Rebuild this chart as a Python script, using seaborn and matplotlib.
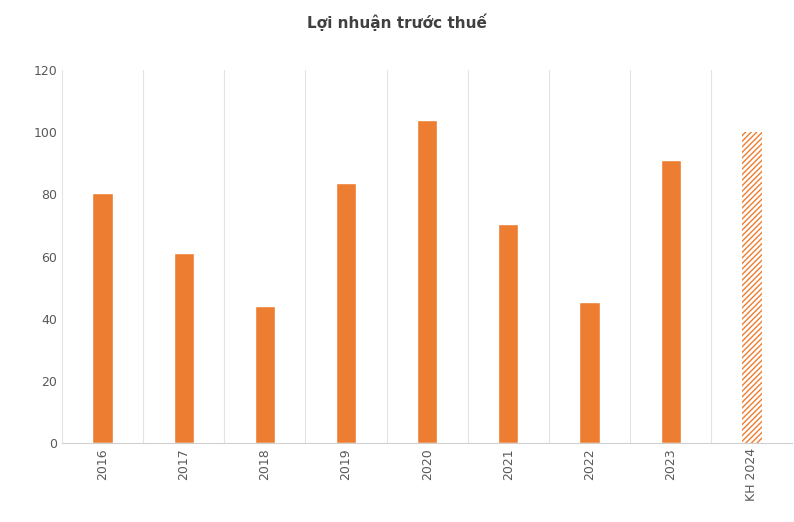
import matplotlib.pyplot as plt
import seaborn as sns
import pandas as pd

years = ['2016', '2017', '2018', '2019', '2020', '2021', '2022', '2023', 'KH 2024']
profit = [80.5, 61, 44, 83.5, 104, 70.5, 45.5, 91, 100]

sns.set_style("white")
df = pd.DataFrame({'year': years, 'profit': profit})

fig = plt.figure(figsize=(7.94, 5.22), dpi=100)
ax = fig.add_axes([0.078, 0.151, 0.92, 0.715])
orange = '#ED7D31'
sns.barplot(data=df, x='year', y='profit', color=orange, width=0.25, saturation=1, ax=ax)

# last bar is the plan: hatched
last = ax.patches[-1]
last.set_facecolor('white')
last.set_edgecolor(orange)
last.set_hatch('//////')
last.set_linewidth(0)

ax.set_ylim(0, 120)
ax.set_yticks(range(0, 121, 20))
ax.set_xlim(-0.5, len(years) - 0.5)
for i in range(len(years) + 1):
    ax.axvline(i - 0.5, color='#E3E3E3', linewidth=0.8, zorder=0)
ax.set_xlabel('')
ax.set_ylabel('')
ax.tick_params(axis='x', labelrotation=90, labelsize=9, colors='#595959', length=0)
ax.tick_params(axis='y', labelsize=9, colors='#595959', length=0)
for s in ['top', 'right', 'left']:
    ax.spines[s].set_visible(False)
ax.spines['bottom'].set_color('#D0D0D0')
fig.suptitle('Lợi nhuận trước thuế', y=0.975, fontsize=11, fontweight='bold', color='#404040')

plt.rcParams['hatch.color'] = orange
fig.savefig('out.png', dpi=100)
